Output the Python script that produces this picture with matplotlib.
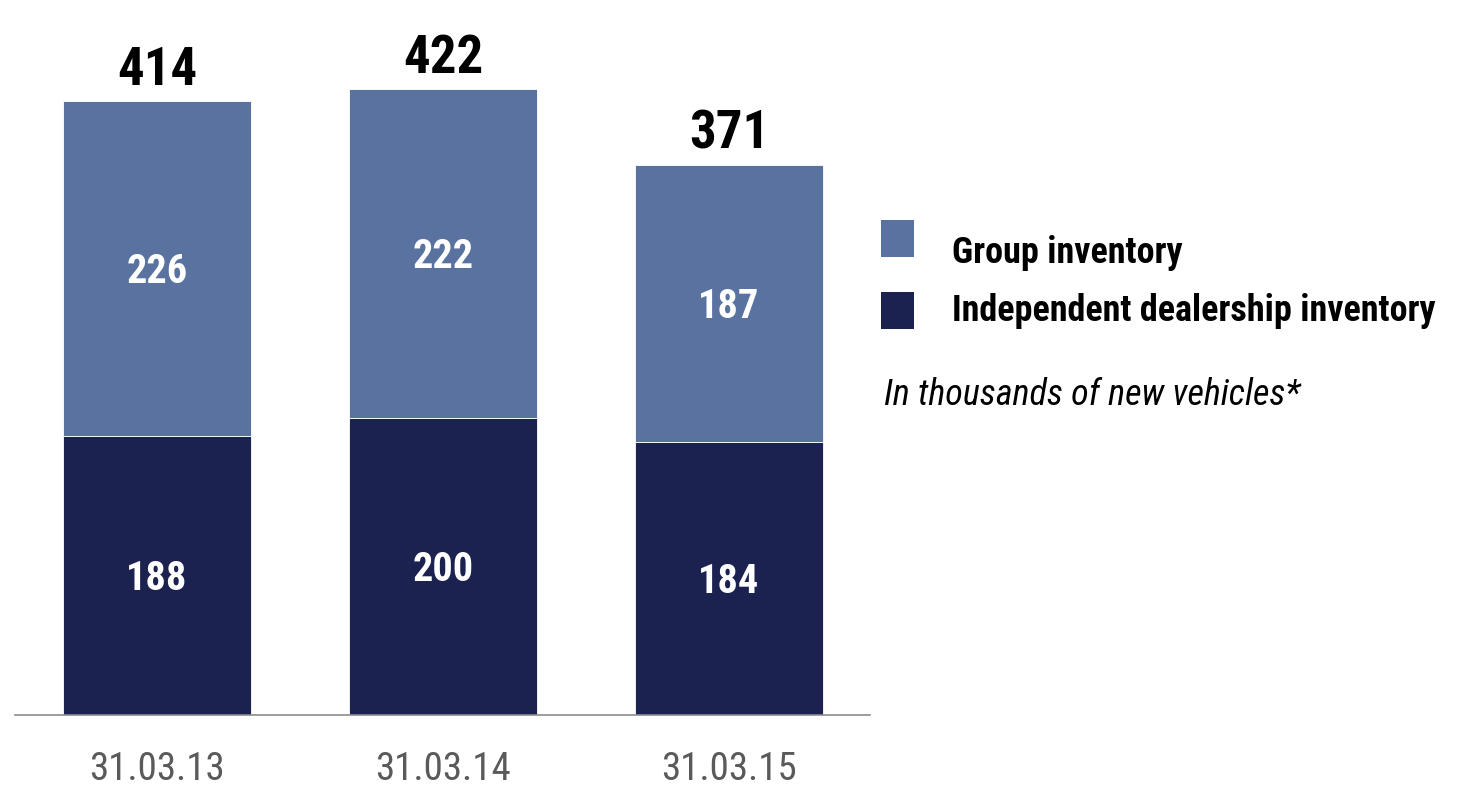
import matplotlib
matplotlib.use("Agg")
import matplotlib.pyplot as plt
from matplotlib.patches import Rectangle
import numpy as np

plt.rcParams['font.family'] = ['Roboto Condensed', 'Archivo Narrow', 'Liberation Sans', 'DejaVu Sans']

dates = ['31.03.13', '31.03.14', '31.03.15']
independent = [188, 200, 184]
group = [226, 222, 187]
totals = [414, 422, 371]
series_names = ['Group inventory', 'Independent dealership inventory']
note = 'In thousands of new vehicles*'

c_group = '#5A72A0'
c_indep = '#1C2250'

W, H = 1473, 786
fig = plt.figure(figsize=(W / 100, H / 100), dpi=100)
ax = fig.add_axes([15 / W, 71 / H, 855 / W, 715 / H])

x = np.arange(len(dates))
w = 0.66
ax.bar(x, independent, w, color=c_indep, edgecolor='white', linewidth=0.6)
ax.bar(x, group, w, bottom=independent, color=c_group, edgecolor='white', linewidth=0.6)

# value labels (baseline placed ~10 units below segment middle)
for i in range(len(dates)):
    ax.text(x[i], independent[i] / 2 - 10, str(independent[i]), ha='center', va='baseline',
            color='white', fontsize=29, fontweight='bold')
    ax.text(x[i], independent[i] + group[i] / 2 - 10, str(group[i]), ha='center', va='baseline',
            color='white', fontsize=29, fontweight='bold')
    ax.text(x[i], totals[i] + 11, str(totals[i]), ha='center', va='baseline',
            color='black', fontsize=38, fontweight='bold')

ax.set_xlim(-0.497, 2.493)
ax.set_ylim(0, 482)
for s in ['top', 'right', 'left']:
    ax.spines[s].set_visible(False)
ax.spines['bottom'].set_color('#8c8c8c')
ax.spines['bottom'].set_linewidth(1.2)
ax.set_yticks([])
ax.set_xticks(x)
ax.set_xticklabels(dates, fontsize=28, color='#5a5a5a')
ax.tick_params(axis='x', length=0, pad=26)

# legend drawn by hand to match the spacing of the original
legend_items = [(series_names[0], c_group, 220, 263), (series_names[1], c_indep, 292, 321)]
for name, col, top, base in legend_items:
    fig.patches.append(Rectangle((881 / W, 1 - (top + 37) / H), 33 / W, 37 / H,
                                 transform=fig.transFigure, facecolor=col, edgecolor='none'))
    fig.text(952 / W, 1 - base / H, name, fontsize=26, fontweight='bold',
             ha='left', va='baseline', color='black')

fig.text(884 / W, 1 - 405 / H, note, fontsize=26,
         style='italic', ha='left', va='baseline', color='black')

fig.savefig('out.png', dpi=100)
